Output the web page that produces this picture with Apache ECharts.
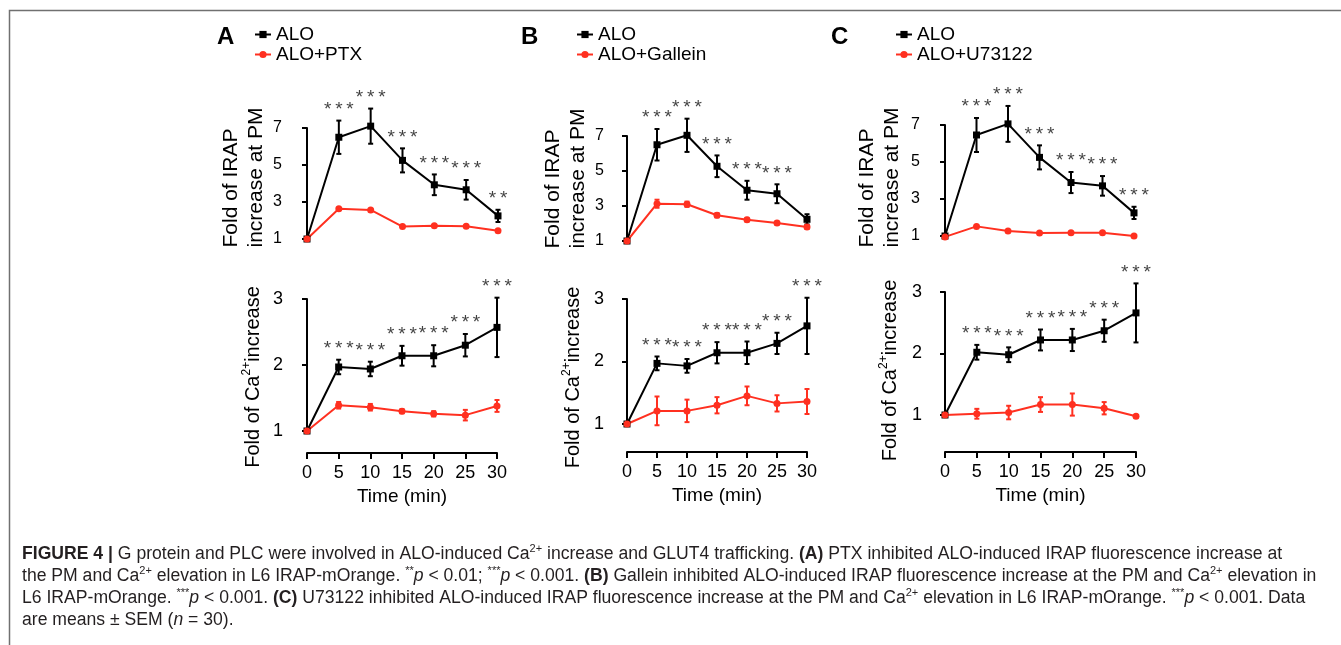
<!DOCTYPE html>
<html><head><meta charset="utf-8">
<script src="https://cdn.jsdelivr.net/npm/echarts@6/dist/echarts.min.js"></script>
<style>html,body{margin:0;padding:0;background:#fff}#c{width:1341px;height:645px}</style>
</head><body><div id="c"></div>
<script>
// ---------- data ----------
const time = [0, 5, 10, 15, 20, 25, 30];
const xTicks = [0, 5, 10, 15, 20, 25, 30];
const irapTicks = [1, 3, 5, 7];
const caTicks = [1, 2, 3];

// Panel A (PTX)
const aIrapALO = [1, 6.5, 7.1, 5.25, 3.93, 3.66, 2.25];
const aIrapALOErr = [0, 0.9, 0.95, 0.65, 0.56, 0.53, 0.33];
const aIrapPTX = [1, 2.63, 2.57, 1.67, 1.72, 1.69, 1.45];
const aIrapPTXErr = [0, 0.05, 0.05, 0.04, 0.04, 0.04, 0.04];
const aIrapStars = ['', '***', '***', '***', '***', '***', '**'];
const aCaALO = [1, 1.97, 1.94, 2.14, 2.14, 2.30, 2.57];
const aCaALOErr = [0, 0.11, 0.11, 0.15, 0.16, 0.17, 0.45];
const aCaPTX = [1, 1.39, 1.36, 1.30, 1.26, 1.24, 1.38];
const aCaPTXErr = [0, 0.05, 0.05, 0.03, 0.04, 0.08, 0.09];
const aCaStars = ['', '***', '***', '***', '***', '***', '***'];

// Panel B (Gallein)
const bIrapALO = [1, 6.5, 7.04, 5.27, 3.9, 3.7, 2.24];
const bIrapALOErr = [0, 0.9, 0.95, 0.62, 0.54, 0.54, 0.29];
const bIrapGal = [1, 3.13, 3.1, 2.47, 2.22, 2.03, 1.8];
const bIrapGalErr = [0, 0.23, 0.15, 0.12, 0.1, 0.08, 0.1];
const bIrapStars = ['', '***', '***', '***', '***', '***', ''];
const bCaALO = [1, 1.97, 1.93, 2.14, 2.14, 2.29, 2.57];
const bCaALOErr = [0, 0.11, 0.11, 0.17, 0.18, 0.17, 0.45];
const bCaGal = [1, 1.21, 1.21, 1.30, 1.45, 1.33, 1.36];
const bCaGalErr = [0, 0.23, 0.18, 0.13, 0.15, 0.13, 0.2];
const bCaStars = ['', '***', '***', '***', '***', '***', '***'];

// Panel C (U73122)
const cIrapALO = [1, 6.46, 7.06, 5.25, 3.89, 3.71, 2.25];
const cIrapALOErr = [0, 0.92, 0.97, 0.65, 0.57, 0.53, 0.33];
const cIrapU = [0.95, 1.52, 1.27, 1.16, 1.18, 1.18, 1.0];
const cIrapUErr = [0, 0.05, 0.04, 0.04, 0.04, 0.04, 0.04];
const cIrapStars = ['', '***', '***', '***', '***', '***', '***'];
const cCaALO = [1, 2.02, 1.98, 2.22, 2.22, 2.37, 2.66];
const cCaALOErr = [0, 0.12, 0.12, 0.17, 0.18, 0.18, 0.48];
const cCaU = [1, 1.02, 1.04, 1.17, 1.17, 1.11, 0.98];
const cCaUErr = [0, 0.08, 0.11, 0.12, 0.18, 0.1, 0.02];
const cCaStars = ['', '***', '***', '***', '***', '***', '***'];

const captionLines = [
  '{b|FIGURE 4 |} G protein and PLC were involved in ALO-induced Ca{s|2+} increase and GLUT4 trafficking. {b|(A)} PTX inhibited ALO-induced IRAP fluorescence increase at',
  'the PM and Ca{s|2+} elevation in L6 IRAP-mOrange. {s|**}{i|p} < 0.01; {s|***}{i|p} < 0.001. {b|(B)} Gallein inhibited ALO-induced IRAP fluorescence increase at the PM and Ca{s|2+} elevation in',
  'L6 IRAP-mOrange. {s|***}{i|p} < 0.001. {b|(C)} U73122 inhibited ALO-induced IRAP fluorescence increase at the PM and Ca{s|2+} elevation in L6 IRAP-mOrange. {s|***}{i|p} < 0.001. Data',
  'are means ± SEM ({i|n} = 30).'
];

// ---------- styling / layout ----------
const FONT = '"Liberation Sans", Arial, Helvetica, sans-serif';
const BLACK = '#000000';
const RED = '#ff3020';
const grids = [], xAxes = [], yAxes = [], series = [], legends = [], titles = [];

function errRender(params, api) {
  const x = api.value(0), m = api.value(1), e = api.value(2);
  if (!e) return null;
  const t = api.coord([x, m + e]);
  const b = api.coord([x, m - e]);
  const c = api.visual('color');
  const st = { stroke: c, lineWidth: 2 };
  return {
    type: 'group', children: [
      { type: 'line', shape: { x1: t[0], y1: t[1], x2: b[0], y2: b[1] }, style: st },
      { type: 'line', shape: { x1: t[0] - 2.5, y1: t[1], x2: t[0] + 2.5, y2: t[1] }, style: st },
      { type: 'line', shape: { x1: b[0] - 2.5, y1: b[1], x2: b[0] + 2.5, y2: b[1] }, style: st }
    ]
  };
}

function addPlot(L, isBottom, yTicks, yMin, yMax, yName, bName, bVals, bErr, rName, rVals, rErr, stars) {
  const gi = grids.length;
  grids.push({ left: L.left, top: L.top, width: L.width, height: L.height, containLabel: false, outerBoundsMode: 'none' });
  xAxes.push({
    gridIndex: gi, type: 'value', min: 0, max: 30, interval: 5, show: isBottom, offset: L.xOffset || 0,
    axisLine: { show: true, lineStyle: { color: '#000', width: 2 } },
    axisTick: { show: true, length: 6, lineStyle: { color: '#000', width: 2 }, customValues: xTicks },
    axisLabel: { customValues: xTicks, fontSize: 18, color: '#000', margin: 11, fontFamily: FONT },
    splitLine: { show: false },
    name: isBottom ? 'Time (min)' : '', nameLocation: 'middle', nameGap: 34,
    nameTextStyle: { fontSize: 19, color: '#000', fontFamily: FONT }
  });
  const shift = L.nameShift || 0; // + = down on screen
  const pad = shift >= 0 ? [0, 2 * shift, 0, 0] : [0, 0, 0, -2 * shift];
  yAxes.push({
    gridIndex: gi, type: 'value', min: yMin, max: yMax, offset: L.yOffset,
    axisLine: { show: true, lineStyle: { color: '#000', width: 2 } },
    axisTick: { show: true, length: 5, lineStyle: { color: '#000', width: 2 }, customValues: yTicks },
    axisLabel: { customValues: yTicks, fontSize: isBottom ? 18 : 16, color: '#000', margin: isBottom ? 8 : 7, fontFamily: FONT },
    splitLine: { show: false },
    name: yName, nameLocation: 'middle', nameGap: L.nameGap,
    nameTextStyle: {
      fontSize: isBottom ? 20 : 21, lineHeight: isBottom ? 24 : 25, color: '#000', fontFamily: FONT, padding: pad,
      rich: {
        l: { align: 'left', fontSize: 21, lineHeight: 25, fontFamily: FONT, color: '#000' },
        s: { fontSize: 12, lineHeight: 12, verticalAlign: 'top', fontFamily: FONT, color: '#000' }
      }
    }
  });
  const pts = (v) => time.map((t, i) => [t, v[i]]);
  const errData = (v, e) => time.map((t, i) => [t, v[i], e[i]]);
  const common = { xAxisIndex: gi, yAxisIndex: gi, animation: false, clip: false, silent: true };
  series.push(Object.assign({ type: 'custom', name: bName + ' err', renderItem: errRender, data: errData(bVals, bErr), encode: { x: 0, y: 1 }, itemStyle: { color: BLACK } }, common));
  series.push(Object.assign({ type: 'line', name: bName, data: pts(bVals), symbol: 'rect', symbolSize: 7, lineStyle: { color: BLACK, width: 2 }, itemStyle: { color: BLACK } }, common));
  series.push(Object.assign({ type: 'custom', name: rName + ' err', renderItem: errRender, data: errData(rVals, rErr), encode: { x: 0, y: 1 }, itemStyle: { color: RED } }, common));
  series.push(Object.assign({ type: 'line', name: rName, data: pts(rVals), symbol: 'circle', symbolSize: 7, lineStyle: { color: RED, width: 2 }, itemStyle: { color: RED } }, common));
  series.push(Object.assign({
    type: 'scatter', name: 'stars', data: time.map((t, i) => [t, bVals[i] + bErr[i]]),
    symbol: 'circle', symbolSize: 1, itemStyle: { color: 'rgba(0,0,0,0)' },
    label: { show: true, position: 'top', distance: 1, fontSize: 19, color: '#111', fontFamily: FONT,
      formatter: (p) => stars[p.dataIndex].split('').join('\u2009') }
  }, common));
}

function addPanel(letter, letterLeft, legendLeft, top, bottom, d) {
  titles.push({ text: letter, left: letterLeft, top: 25, padding: 0, textStyle: { fontSize: 24, fontWeight: 'bold', color: '#000', fontFamily: FONT } });
  legends.push({
    left: legendLeft, top: 25, padding: 0, orient: 'vertical', data: [d.bName, d.rName], selectedMode: false,
    itemWidth: 16, itemHeight: 9, itemGap: 1, textStyle: { fontSize: 19, color: '#000', fontFamily: FONT }
  });
  addPlot(top, false, irapTicks, 1, 7, '{l|Fold of IRAP}\n{l|increase at PM}',
    d.bName, d.ti, d.tiE, d.rName, d.tr, d.trE, d.ts);
  addPlot(bottom, true, caTicks, 1, 3, 'Fold of Ca{s|2+}increase',
    d.bName, d.ci, d.ciE, d.rName, d.cr, d.crE, d.cs);
}

addPanel('A', 217, 254,
  { left: 307, width: 191, top: 128, height: 111, yOffset: 18, nameGap: 19, nameShift: -6 },
  { left: 307, width: 190, top: 299, height: 132, yOffset: 16, xOffset: 22, nameGap: 26, nameShift: 12 },
  { bName: 'ALO', rName: 'ALO+PTX', ti: aIrapALO, tiE: aIrapALOErr, tr: aIrapPTX, trE: aIrapPTXErr, ts: aIrapStars,
    ci: aCaALO, ciE: aCaALOErr, cr: aCaPTX, crE: aCaPTXErr, cs: aCaStars });
addPanel('B', 521, 576,
  { left: 627, width: 180, top: 136, height: 105, yOffset: 16, nameGap: 17, nameShift: -10 },
  { left: 627, width: 180, top: 299, height: 125, yOffset: 15, xOffset: 28, nameGap: 27, nameShift: 16 },
  { bName: 'ALO', rName: 'ALO+Gallein', ti: bIrapALO, tiE: bIrapALOErr, tr: bIrapGal, trE: bIrapGalErr, ts: bIrapStars,
    ci: bCaALO, ciE: bCaALOErr, cr: bCaGal, crE: bCaGalErr, cs: bCaStars });
addPanel('C', 831, 895,
  { left: 945, width: 189, top: 125, height: 111, yOffset: 18, nameGap: 22, nameShift: -3 },
  { left: 945, width: 191, top: 292, height: 123, yOffset: 15, xOffset: 37, nameGap: 28, nameShift: 17 },
  { bName: 'ALO', rName: 'ALO+U73122', ti: cIrapALO, tiE: cIrapALOErr, tr: cIrapU, trE: cIrapUErr, ts: cIrapStars,
    ci: cCaALO, ciE: cCaALOErr, cr: cCaU, crE: cCaUErr, cs: cCaStars });

const capFont = 17.6;
const chart = echarts.init(document.getElementById('c'), null, { renderer: 'canvas' });
chart.setOption({
  backgroundColor: '#fff',
  animation: false,
  textStyle: { fontFamily: FONT },
  title: titles,
  legend: legends,
  grid: grids,
  xAxis: xAxes,
  yAxis: yAxes,
  series: series,
  graphic: [
    { type: 'polyline', shape: { points: [[9.5, 645], [9.5, 10.5], [1341, 10.5]] }, style: { stroke: '#707070', lineWidth: 1.5, fill: null }, silent: true },
    { type: 'text', left: 22, top: 543, silent: true,
      style: {
        text: captionLines.join('\n'), fill: '#231f20', fontSize: capFont, fontFamily: FONT, lineHeight: 22,
        rich: {
          b: { fontWeight: 'bold', fontSize: capFont, fontFamily: FONT, fill: '#231f20', lineHeight: 22 },
          i: { fontStyle: 'italic', fontSize: capFont, fontFamily: FONT, fill: '#231f20', lineHeight: 22 },
          s: { fontSize: 11, lineHeight: 11, verticalAlign: 'top', fontFamily: FONT, fill: '#231f20' }
        }
      }
    }
  ]
});
</script>
</body></html>
